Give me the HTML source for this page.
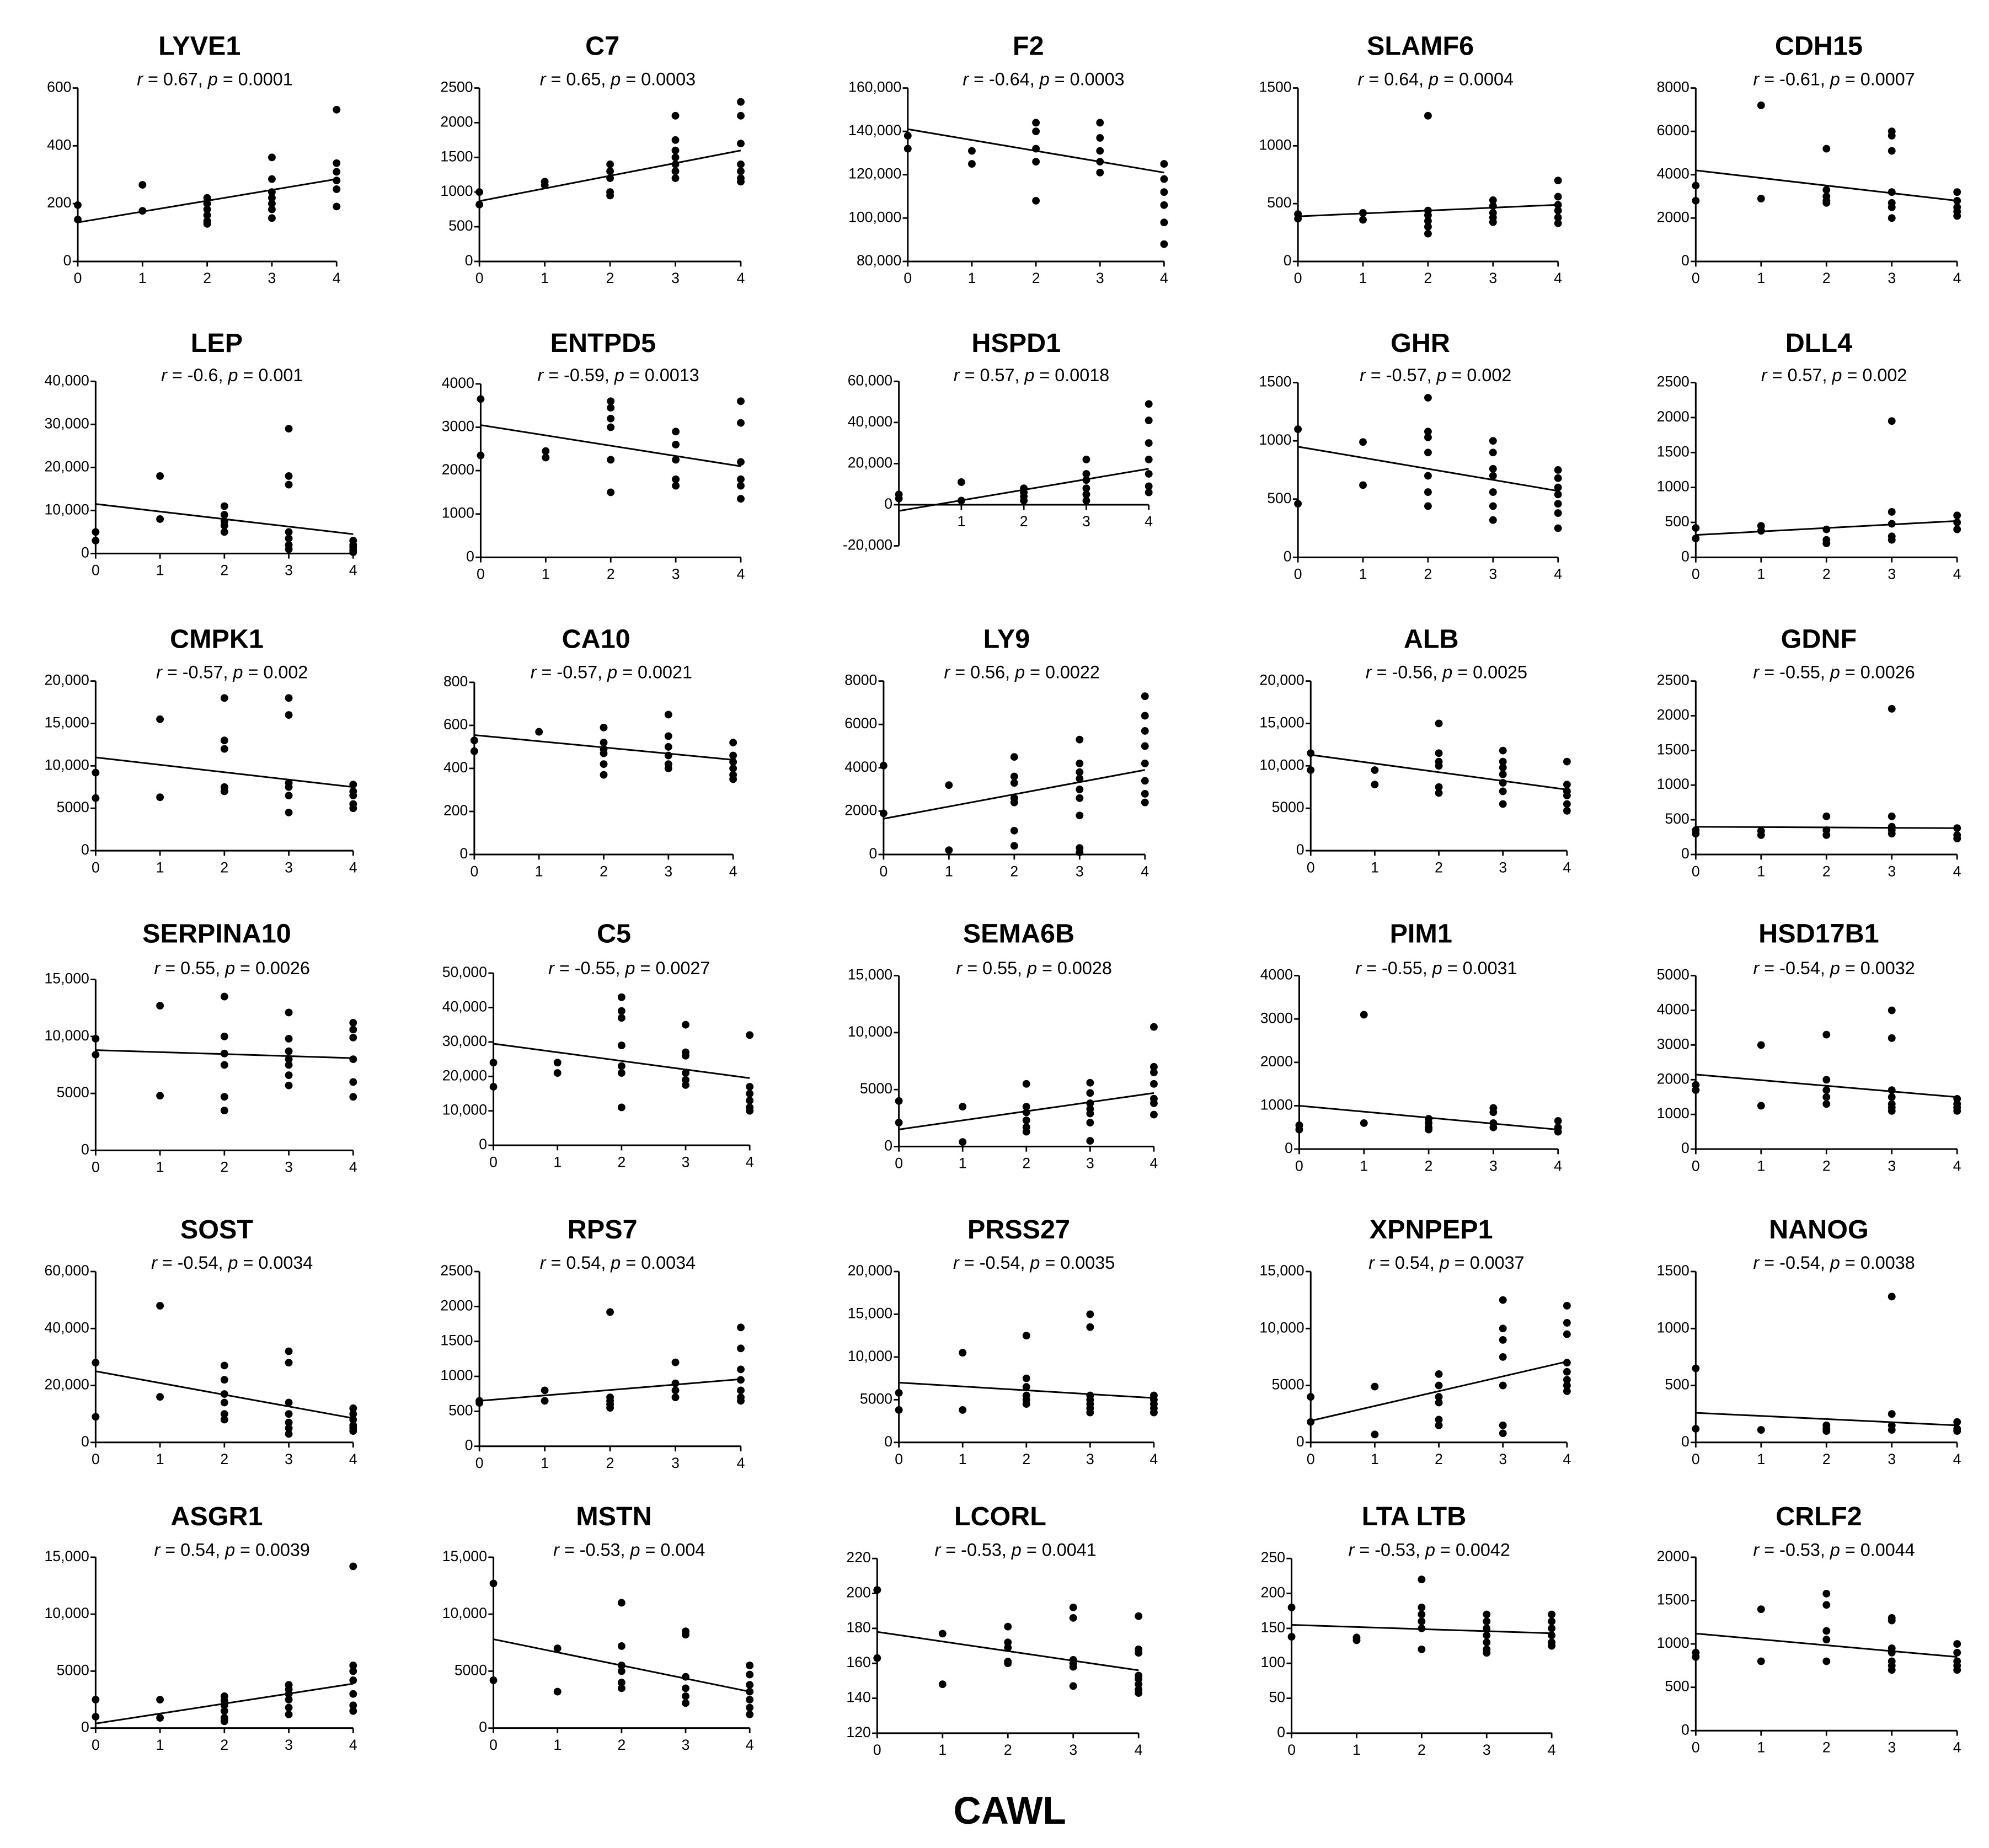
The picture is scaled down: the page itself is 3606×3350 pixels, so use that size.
<!DOCTYPE html>
<html><head><meta charset="utf-8">
<style>
html,body{margin:0;padding:0;background:#fff;}
svg{display:block;}
text{font-family:"Liberation Sans",Arial,sans-serif;fill:#000;}
</style></head>
<body>
<svg id="fig" width="3606" height="3350" viewBox="0 0 1560 1449" preserveAspectRatio="none" xmlns="http://www.w3.org/2000/svg">
<text x="792" y="1430" text-anchor="middle" font-size="30" font-weight="bold">CAWL</text>
</svg>
<script>
const genes=["LYVE1","C7","F2","SLAMF6","CDH15","LEP","ENTPD5","HSPD1","GHR","DLL4","CMPK1","CA10","LY9","ALB","GDNF","SERPINA10","C5","SEMA6B","PIM1","HSD17B1","SOST","RPS7","PRSS27","XPNPEP1","NANOG","ASGR1","MSTN","LCORL","LTA LTB","CRLF2"];
const rValues=["0.67","0.65","-0.64","0.64","-0.61","-0.6","-0.59","0.57","-0.57","0.57","-0.57","-0.57","0.56","-0.56","-0.55","0.55","-0.55","0.55","-0.55","-0.54","-0.54","0.54","-0.54","0.54","-0.54","0.54","-0.53","-0.53","-0.53","-0.53"];
const pValues=["0.0001","0.0003","0.0003","0.0004","0.0007","0.001","0.0013","0.0018","0.002","0.002","0.002","0.0021","0.0022","0.0025","0.0026","0.0026","0.0027","0.0028","0.0031","0.0032","0.0034","0.0034","0.0035","0.0037","0.0038","0.0039","0.004","0.0041","0.0042","0.0044"];
const yMin=[0,0,80000,0,0,0,0,-20000,0,0,0,0,0,0,0,0,0,0,0,0,0,0,0,0,0,0,0,120,0,0];
const yMax=[600,2500,160000,1500,8000,40000,4000,60000,1500,2500,20000,800,8000,20000,2500,15000,50000,15000,4000,5000,60000,2500,20000,15000,1500,15000,15000,220,250,2000];
const yStep=[200,500,20000,500,2000,10000,1000,20000,500,500,5000,200,2000,5000,500,5000,10000,5000,1000,1000,20000,500,5000,5000,500,5000,5000,20,50,500];
const fitAt0=[135,870,141000,390,4200,11500,3050,-3000,950,320,11000,555,1650,11300,400,8800,29500,1500,1000,2150,25000,650,7000,1900,260,400,7800,178,155,1120];
const fitAt4=[285,1600,121000,490,2800,4500,2100,17500,570,520,7500,440,3900,7200,380,8100,19500,4700,450,1500,8500,960,5200,7100,150,3900,3200,156,143,850];
const pointsByGene=[
[[195,145],[265,175],[220,200,180,160,140,130],[360,285,240,220,200,180,150],[525,340,310,280,250,190]],
[[1000,820],[1150,1100],[1400,1300,1200,1000,950],[2100,1750,1600,1500,1400,1300,1200],[2300,2100,1700,1400,1300,1200,1150]],
[[138000,132000],[131000,125000],[144000,140000,132000,126000,108000],[144000,137000,131000,126000,121000],[125000,118000,112000,106000,98000,88000]],
[[410,370],[420,360],[1260,440,400,350,300,240],[530,480,420,380,340],[700,560,490,440,380,330]],
[[3500,2800],[7200,2900],[5200,3300,3000,2800,2700],[6000,5800,5100,3200,2700,2500,2000],[3200,2800,2500,2300,2100]],
[[5000,3000],[18000,8000],[11000,9000,7500,6500,5000],[29000,18000,16000,5000,3500,2000,1000],[3000,2000,1500,800,300]],
[[3650,2350],[2450,2300],[3600,3450,3200,3000,2250,1500],[2900,2600,2250,1800,1650],[3600,3100,2200,1800,1650,1350]],
[[5000,3000],[11000,2000],[8000,6000,4000,2000],[22000,15000,12000,8000,5000,2000],[49000,41000,30000,22000,15000,9000,6000]],
[[1100,460],[990,620],[1370,1080,1030,900,700,560,440],[1000,900,760,700,560,440,320],[750,680,600,540,460,380,250]],
[[420,270],[450,380],[400,250,200],[1950,650,480,300,250],[600,500,400]],
[[9200,6200],[15500,6300],[18000,13000,12000,7500,7000],[18000,16000,8000,7500,6500,4500],[7800,7000,6500,5500,5000]],
[[530,480],[570],[590,520,490,470,420,370],[650,550,500,460,420,400],[520,460,430,400,370,350]],
[[4100,1900],[3200,200],[4500,3600,3300,2600,2400,1100,400],[5300,4200,3800,3500,3000,2600,1800,300,100],[7300,6400,5700,5000,4200,3400,2800,2400]],
[[11500,9500],[9500,7800],[15000,11500,10500,10000,7500,6800],[11800,10500,9800,9000,8000,7000,5500],[10500,7800,7000,6500,5500,4700]],
[[350,300],[340,280],[550,350,280],[2100,550,400,350,300],[380,280,230]],
[[9800,8400],[12700,4800],[13500,10000,8500,7500,4700,3500],[12100,9800,8700,8000,7500,6600,5700],[11200,10600,9900,8000,6000,4700]],
[[24000,17000],[24000,21000],[43000,39000,37000,29000,23000,21000,11000],[35000,27000,26000,21000,19000,17500],[32000,17000,15000,13000,11000,10000]],
[[4000,2100],[3500,400],[5500,3500,3000,2300,1700,1300],[5600,4700,3800,3300,2900,2100,500],[10500,7000,6500,5500,4200,3800,2800]],
[[550,450],[3100,600],[700,600,500,450],[950,850,600,500],[650,500,400]],
[[1850,1700],[3000,1250],[3300,2000,1700,1500,1300],[4000,3200,1700,1500,1300,1200,1100],[1450,1300,1200,1100]],
[[28000,9000],[48000,16000],[27000,22000,17000,14000,10000,8000],[32000,28000,14000,10000,7000,5000,3000],[12000,10000,8000,6000,5000,4000]],
[[650,620],[800,650],[1920,700,650,600,550],[1200,900,800,700],[1700,1400,1100,950,800,700,650]],
[[5800,3800],[10500,3800],[12500,7500,6500,5500,5000,4500],[15000,13500,5500,5000,4500,4000,3500],[5500,5000,4500,4000,3500]],
[[4000,1800],[4900,700],[6000,5000,4000,3500,2000,1500],[12500,10000,9000,7500,5000,1500,800],[12000,10500,9500,7000,6200,5500,5000,4500]],
[[650,120],[110],[150,120,100],[1280,250,150,110],[180,120,100]],
[[2500,1000],[2500,900],[2800,2400,2000,1500,900,600],[3800,3400,3000,2500,1800,1200],[14200,5500,5000,4200,3000,2000,1500]],
[[12700,4200],[7000,3200],[11000,7200,5500,5000,4000,3500],[8500,8200,4500,3500,2800,2200],[5500,4700,3800,3200,2500,1800,1200]],
[[202,163],[177,148],[181,172,169,161,160],[192,186,162,160,158,147],[187,168,166,153,151,148,145,143]],
[[180,138],[137,133],[220,180,170,160,150,120],[170,160,150,140,130,120,115],[170,160,150,140,130,125]],
[[900,850],[1400,800],[1580,1450,1150,1050,800],[1300,1270,950,900,800,750,700],[1000,900,800,750,700]]
];
const xCategories=[0,1,2,3,4];

// layout (pixel geometry, not data)
const layoutX0=[61,376,712,1018,1330, 75,377,705,1018,1330, 75,372,693,1028,1330, 75,387,705,1019,1330, 75,376,705,1028,1330, 75,387,688,1013,1330];
const layoutX4=[264,581,913,1222,1535, 277,581,901,1222,1535, 277,575,898,1229,1535, 277,588,905,1222,1535, 277,581,905,1229,1535, 277,588,893,1217,1535];
const layoutTop=[69,69,69,69,69, 299,301,299,300,300, 534,535,534,534,534, 768,763,765,765,765, 997,997,997,997,997, 1221,1221,1222,1222,1221];
const layoutBot=[205,205,205,205,205, 434,437,428,437,437, 667,670,670,667,670, 902,898,899,901,901, 1131,1134,1131,1131,1131, 1355,1355,1359,1359,1357];
const titleY=[43,276,508,739,971,1196];
const statY=[63,295,528,760,991,1216];

const NS="http://www.w3.org/2000/svg";
const svg=document.getElementById('fig');
function mk(tag,attrs,parent){const e=document.createElementNS(NS,tag);for(const k in attrs)e.setAttribute(k,attrs[k]);(parent||svg).appendChild(e);return e;}
function fmt(v){return Math.abs(v)>=10000?v.toLocaleString('en-US'):String(v);}

genes.forEach((g,i)=>{
  const slug=g.toLowerCase().replace(/\s+/g,'-');
  const x0=layoutX0[i],x4=layoutX4[i],top=layoutTop[i],bot=layoutBot[i];
  const row=Math.floor(i/5);
  const sx=v=>x0+(x4-x0)*(v-xCategories[0])/(xCategories[xCategories.length-1]-xCategories[0]);
  const sy=v=>bot-(bot-top)*(v-yMin[i])/(yMax[i]-yMin[i]);
  const grp=mk('g',{});
  
  
  const cx=(x0+x4)/2;
  const t=mk('text',{x:cx-6,y:titleY[row],'text-anchor':'middle','font-size':21,'font-weight':'bold'},grp);
  t.textContent=g;
  
  
  const st=mk('text',{x:cx+6,y:statY[row],'text-anchor':'middle','dominant-baseline':'middle','font-size':14},grp);
  
  
  const a=mk('tspan',{'font-style':'italic'},st);a.textContent='r';
  const b=mk('tspan',{},st);b.textContent=' = '+rValues[i]+', ';
  const c=mk('tspan',{'font-style':'italic'},st);c.textContent='p';
  const d=mk('tspan',{},st);d.textContent=' = '+pValues[i];
  // y axis
  const ya=mk('line',{x1:x0,y1:top,x2:x0,y2:bot,stroke:'#000','stroke-width':1.3},grp);
  
  
  for(let v=yMin[i];v<=yMax[i]+1e-9;v+=yStep[i]){
    const y=sy(v);
    mk('line',{x1:x0-4,y1:y,x2:x0,y2:y,stroke:'#000','stroke-width':1.2},grp);
    const tl=mk('text',{x:x0-5,y:y,'text-anchor':'end','dominant-baseline':'middle','font-size':11.5},grp);
    tl.textContent=fmt(v);
    
    
  }
  // x axis at y=0 or bottom
  const xAxisY=(yMin[i]<0)?sy(0):bot;
  const xa=mk('line',{x1:x0,y1:xAxisY,x2:x4,y2:xAxisY,stroke:'#000','stroke-width':1.3},grp);
  
  
  xCategories.forEach(k=>{
    const x=sx(k);
    mk('line',{x1:x,y1:xAxisY,x2:x,y2:xAxisY+4,stroke:'#000','stroke-width':1.2},grp);
    if(yMin[i]<0&&k===0)return;
    const xl=mk('text',{x:x,y:xAxisY+17,'text-anchor':'middle','font-size':11.5},grp);
    xl.textContent=String(k);
    
    
  });
  // points
  pointsByGene[i].forEach((vals,k)=>{
    vals.forEach(v=>{
      const p=mk('circle',{cx:sx(xCategories[k]),cy:sy(v),r:3,fill:'#000'},grp);
      
      
    });
  });
  const fl=mk('line',{x1:sx(0),y1:sy(fitAt0[i]),x2:sx(4),y2:sy(fitAt4[i]),stroke:'#000','stroke-width':1.3},grp);
  
  
});
</script>
</body></html>
